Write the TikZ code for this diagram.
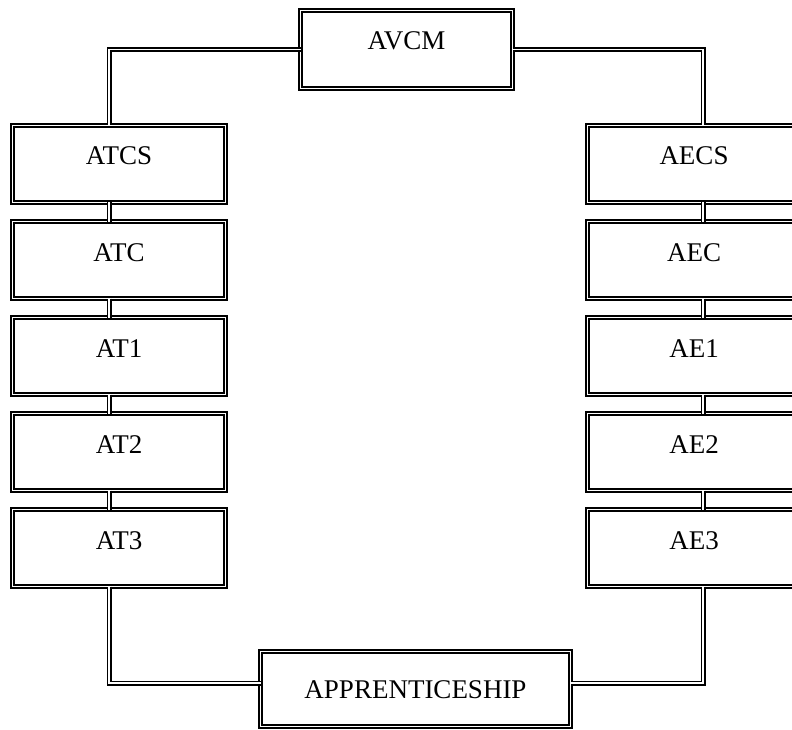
\documentclass[tikz,border=0pt]{standalone}
\usepackage{fontspec}
\setmainfont{Liberation Serif}
\usetikzlibrary{calc}
\begin{document}
\begin{tikzpicture}[x=1pt,y=1pt,
  box/.style={draw, double, line width=2.2pt, double distance=1.4pt,
    inner sep=0pt, outer sep=0pt, font=\fontsize{27}{31}\selectfont,
    minimum width=213pt, text height=39.5pt, text depth=37.5pt},
  conn/.style={draw, double, line width=1.6pt, double distance=1.8pt}]
\useasboundingbox (0,0) rectangle (792,-730);
% top
\node[box, minimum width=212pt, text height=39.5pt, text depth=38.5pt, anchor=base] (avcm) at (406.5,-50) {AVCM};
% left column
\node[box, anchor=base] (atcs) at (119,-165) {ATCS};
\node[box, anchor=base] (atc)  at (119,-261) {ATC};
\node[box, anchor=base] (at1)  at (119,-357) {AT1};
\node[box, anchor=base] (at2)  at (119,-453) {AT2};
\node[box, anchor=base] (at3)  at (119,-549) {AT3};
% right column
\node[box, anchor=base] (aecs) at (694,-165) {AECS};
\node[box, anchor=base] (aec)  at (694,-261) {AEC};
\node[box, anchor=base] (ae1)  at (694,-357) {AE1};
\node[box, anchor=base] (ae2)  at (694,-453) {AE2};
\node[box, anchor=base] (ae3)  at (694,-549) {AE3};
% bottom
\node[box, minimum width=310pt, text height=46.5pt, text depth=28.5pt, anchor=base] (app) at (415.5,-698) {APPRENTICESHIP};
% connectors
\draw[conn] (avcm.west) -| ([xshift=-10pt]atcs.north);
\draw[conn] (avcm.east) -| ([xshift=9pt]aecs.north);
\foreach \a/\b in {atcs/atc, atc/at1, at1/at2, at2/at3}
  \draw[conn] ([xshift=-10pt]\a.south) -- ([xshift=-10pt]\b.north);
\foreach \a/\b in {aecs/aec, aec/ae1, ae1/ae2, ae2/ae3}
  \draw[conn] ([xshift=9pt]\a.south) -- ([xshift=9pt]\b.north);
\draw[conn] ([xshift=-10pt]at3.south) |- ([yshift=6pt]app.west);
\draw[conn] ([xshift=9pt]ae3.south) |- ([yshift=6pt]app.east);
\end{tikzpicture}
\end{document}
